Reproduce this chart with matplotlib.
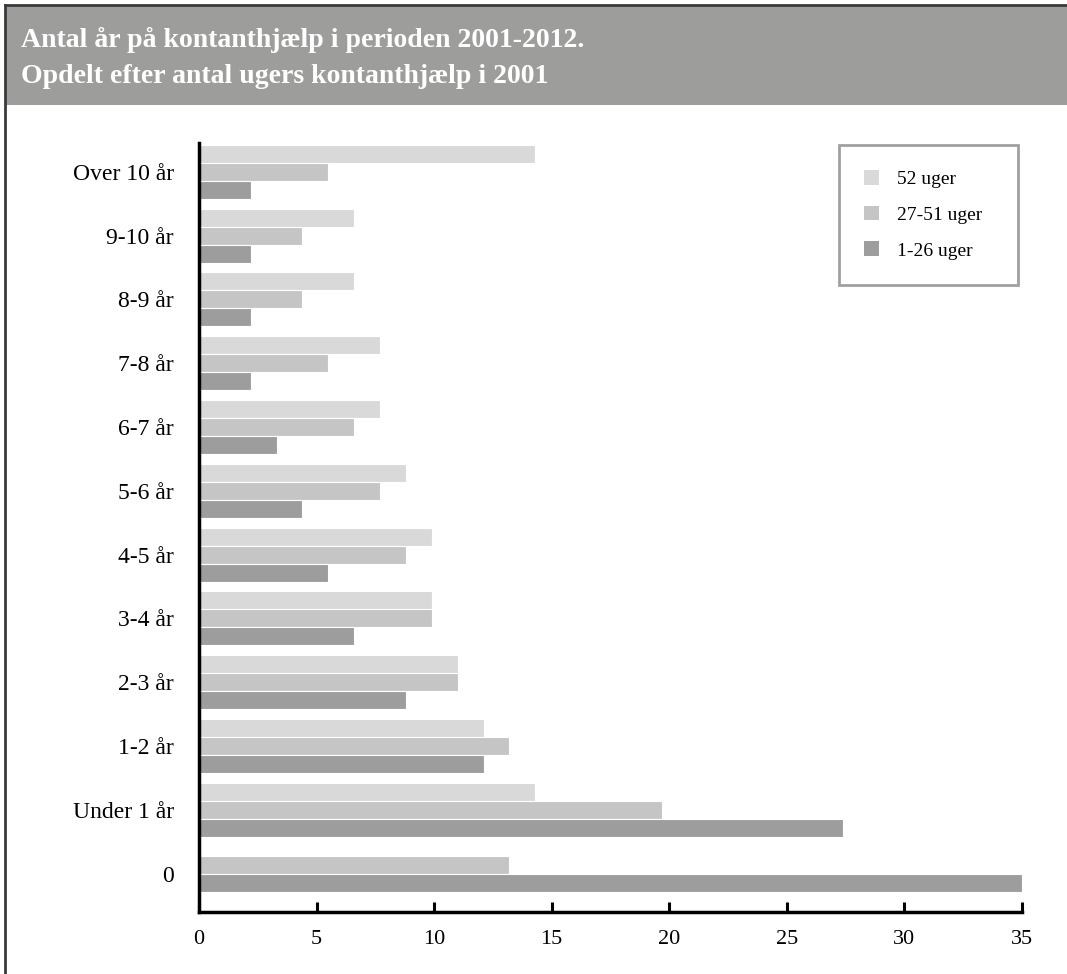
import matplotlib
matplotlib.use("Agg")
import matplotlib.pyplot as plt
from matplotlib.patches import Rectangle, Patch
from matplotlib.lines import Line2D
import numpy as np

plt.rcParams['font.family'] = ['Liberation Serif', 'DejaVu Serif']

# Categories from top to bottom
categories = ["Over 10 år", "9-10 år", "8-9 år", "7-8 år", "6-7 år", "5-6 år",
              "4-5 år", "3-4 år", "2-3 år", "1-2 år", "Under 1 år", "0"]
series_names = ["52 uger", "27-51 uger", "1-26 uger"]
uger_52 = [14.3, 6.6, 6.6, 7.7, 7.7, 8.8, 9.9, 9.9, 11.0, 12.1, 14.3, None]
uger_27_51 = [5.5, 4.4, 4.4, 5.5, 6.6, 7.7, 8.8, 9.9, 11.0, 13.2, 19.7, 13.2]
uger_1_26 = [2.2, 2.2, 2.2, 2.2, 3.3, 4.4, 5.5, 6.6, 8.8, 12.1, 27.4, 35.0]
xticks = [0, 5, 10, 15, 20, 25, 30, 35]

colors = ["#d9d9d9", "#c4c5c4", "#9c9d9c"]
band_color = "#9d9e9c"

W, H = 1067, 974
fig = plt.figure(figsize=(W / 100, H / 100), dpi=100)

# Outer frame and title band
fig.patches.append(Rectangle((5 / W, 1 - 105 / H), 1 - 5 / W, 99 / H,
                             transform=fig.transFigure, facecolor=band_color,
                             edgecolor="none", zorder=0))
fig.lines.append(Line2D([4.5 / W, 1], [1 - 5 / H, 1 - 5 / H], transform=fig.transFigure,
                        color="#3a3a3a", lw=2))
fig.lines.append(Line2D([4.5 / W, 4.5 / W], [0, 1 - 5 / H], transform=fig.transFigure,
                        color="#3a3a3a", lw=2))
fig.text(21 / W, 1 - 47 / H, "Antal år på kontanthjælp i perioden 2001-2012.",
         color="white", fontsize=20, fontweight="bold", va="baseline", ha="left")
fig.text(21 / W, 1 - 83 / H, "Opdelt efter antal ugers kontanthjælp i 2001",
         color="white", fontsize=20, fontweight="bold", va="baseline", ha="left")

ax = fig.add_axes([199 / W, (H - 912) / H, 823 / W, 769 / H])

n = len(categories)
ypos = np.arange(n)[::-1]  # top category at highest position
bh = 0.282
series = [uger_52, uger_27_51, uger_1_26]

for s_idx, (vals, col, name) in enumerate(zip(series, colors, series_names)):
    ys, ws = [], []
    for c_idx, v in enumerate(vals):
        if v is None:
            continue
        present = [k for k in range(3) if series[k][c_idx] is not None]
        m = len(present)
        j = present.index(s_idx)
        offset = ((m - 1) / 2 - j) * bh
        ys.append(ypos[c_idx] + offset)
        ws.append(v)
    ax.barh(ys, ws, height=bh, color=col, edgecolor="white", linewidth=0.8,
            label=name, zorder=2)

ax.set_xlim(0, 35)
ax.set_ylim(-0.6, n - 1 + 0.45)
ax.set_xticks(xticks)
ax.set_xticklabels([str(t) for t in xticks])
ax.set_yticks(ypos)
ax.set_yticklabels(categories)
ax.tick_params(axis="x", direction="in", length=7, width=2.2, pad=13,
               labelsize=16, color="black")
ax.tick_params(axis="y", length=0, pad=18, labelsize=17)
for side in ["top", "right"]:
    ax.spines[side].set_visible(False)
for side in ["left", "bottom"]:
    ax.spines[side].set_linewidth(2.5)
    ax.spines[side].set_color("black")
ax.spines["left"].set_zorder(3)

handles = [Patch(facecolor=c, edgecolor="none") for c in colors]
leg_x0 = (839 - 199) / 823
leg_x1 = (1018 - 199) / 823
leg_top = (912 - 145) / 769
leg = ax.legend(handles, series_names, loc="upper left",
                bbox_to_anchor=(leg_x0, leg_top - 0.3, leg_x1 - leg_x0, 0.3),
                mode="expand", fontsize=14, frameon=True,
                fancybox=False, borderpad=1.3, labelspacing=0.9,
                handlelength=0.78, handleheight=0.78, handletextpad=0.9,
                borderaxespad=0)
frame = leg.get_frame()
frame.set_edgecolor("#a0a0a0")
frame.set_linewidth(2)
frame.set_facecolor("white")
frame.set_alpha(1)

fig.savefig("out.png", dpi=100)
